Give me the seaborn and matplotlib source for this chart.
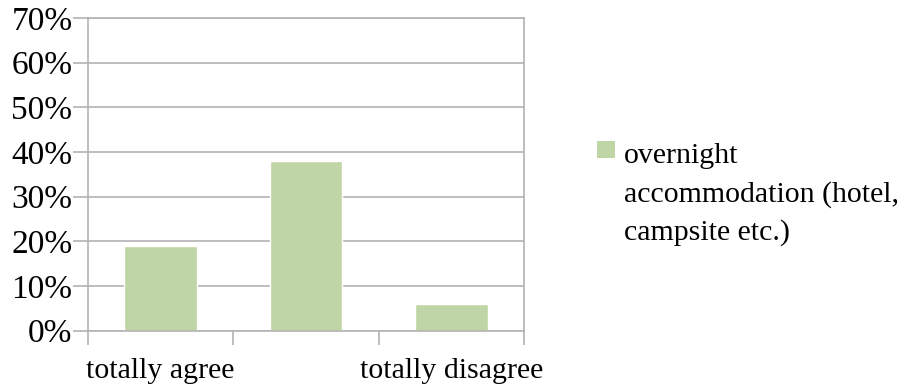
import matplotlib
matplotlib.use("Agg")
import matplotlib.pyplot as plt
from matplotlib.patches import Rectangle
from matplotlib.ticker import FixedLocator, PercentFormatter
import seaborn as sns
import pandas as pd

categories = ["totally agree", "neutral", "totally disagree"]
tick_labels = ["totally agree", "", "totally disagree"]
values = [0.19, 0.38, 0.06]
series_name = "overnight\naccommodation (hotel,\ncampsite etc.)"
yticks = [0, 0.1, 0.2, 0.3, 0.4, 0.5, 0.6, 0.7]

bar_color = "#c0d5a5"
grid_color = "#b3b3b3"

sns.set_theme(style="white")
plt.rcParams["font.family"] = ["Liberation Serif", "DejaVu Serif"]

W, H = 901, 387
fig = plt.figure(figsize=(W / 100, H / 100), dpi=100)
ax = fig.add_axes([87.7 / W, 1 - 330.7 / H, (524.3 - 87.7) / W, (330.7 - 18) / H])

df = pd.DataFrame({"category": categories, "value": values})
sns.barplot(data=df, x="category", y="value", order=categories, color=bar_color,
            width=0.5, saturation=1, ax=ax, zorder=2)

ax.set_xlim(-0.5, len(categories) - 0.5)
ax.set_ylim(0, 0.7)
ax.set_yticks(yticks)
ax.yaxis.set_major_formatter(PercentFormatter(1.0, decimals=0))
ax.grid(axis="y", color=grid_color, linewidth=1.2, zorder=0)
ax.set_axisbelow(True)

# category boundary ticks (major) and labels at centers (minor)
ax.xaxis.set_major_locator(FixedLocator([i - 0.5 for i in range(len(categories) + 1)]))
ax.set_xticklabels([""] * (len(categories) + 1))
ax.xaxis.set_minor_locator(FixedLocator(list(range(len(categories)))))
ax.set_xticklabels(tick_labels, minor=True)
ax.tick_params(axis="x", which="major", bottom=True, length=10, width=1.2, color=grid_color, direction="out")
ax.tick_params(axis="x", which="minor", bottom=True, length=0, pad=20, labelsize=21.5, labelcolor="black")
ax.tick_params(axis="y", left=True, length=11, width=1.2, color=grid_color, direction="out",
               pad=0, labelsize=24, labelcolor="black")
for lbl in ax.get_yticklabels():
    lbl.set_va("center_baseline")
ax.set_xlabel("")
ax.set_ylabel("")

for s in ax.spines.values():
    s.set_visible(True)
    s.set_color(grid_color)
    s.set_linewidth(1.2)

# legend
fig.add_artist(Rectangle((597 / W, 1 - 158 / H), 18 / W, 17 / H, transform=fig.transFigure,
                         facecolor=bar_color, edgecolor="none"))
for i, line in enumerate(series_name.split("\n")):
    fig.text(624 / W, 1 - (163 + 38.5 * i) / H, line, fontsize=21.5, color="black",
             va="baseline", ha="left")

fig.savefig("out.png", dpi=100)
